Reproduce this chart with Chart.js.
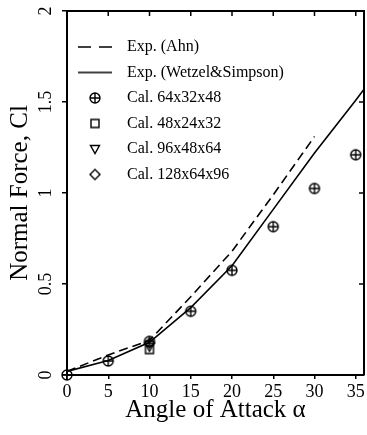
<!DOCTYPE html>
<html>
<head>
<meta charset="utf-8">
<script src="https://cdn.jsdelivr.net/npm/chart.js@4.4.1/dist/chart.umd.min.js"></script>
<style>
  html, body { margin: 0; padding: 0; background: #fff; overflow: hidden; width: 367px; height: 435px; }
  canvas { display: block; }
</style>
</head>
<body>
<canvas id="c" width="370" height="435" style="width:370px;height:435px"></canvas>
<script>
// ---- data ----
const xTicks = [0, 5, 10, 15, 20, 25, 30, 35];
const yTicks = [0, 0.5, 1, 1.5, 2];

const alphaAhn = [0, 5, 10, 15, 20, 25, 30];
const clAhn    = [0.02, 0.11, 0.19, 0.43, 0.68, 0.99, 1.31];

const alphaWS  = [0, 5, 10, 15, 20, 25, 30, 35, 36];
const clWS     = [0.02, 0.08, 0.18, 0.37, 0.60, 0.91, 1.22, 1.51, 1.57];

const alphaCal64  = [0, 5, 10, 15, 20, 25, 30, 35];
const clCal64     = [0.0, 0.077, 0.185, 0.35, 0.575, 0.815, 1.025, 1.21];

const alphaCal48  = [10];
const clCal48     = [0.14];
const alphaCal96  = [10];
const clCal96     = [0.155];
const alphaCal128 = [10];
const clCal128    = [0.175];

const labels = ['Exp. (Ahn)', 'Exp. (Wetzel&Simpson)', 'Cal. 64x32x48', 'Cal. 48x24x32', 'Cal. 96x48x64', 'Cal. 128x64x96'];

// ---- marker / legend symbol images ----
const FONT = "'Liberation Serif', 'Times New Roman', serif";
function symbol(kind) {
  const c = document.createElement('canvas');
  const g = c.getContext('2d');
  if (kind === 'dash' || kind === 'solid') {
    c.width = 34; c.height = 4;
    g.strokeStyle = '#000'; g.lineWidth = 1.6;
    if (kind === 'dash') g.setLineDash([13, 8]);
    g.beginPath(); g.moveTo(0, 2); g.lineTo(34, 2); g.stroke();
    return c;
  }
  c.width = 14; c.height = 14;
  g.strokeStyle = '#000'; g.lineWidth = 1.4;
  g.beginPath();
  if (kind === 'oplus') {
    g.arc(7, 7, 5, 0, Math.PI * 2);
    g.moveTo(7, 2); g.lineTo(7, 12);
    g.moveTo(2, 7); g.lineTo(12, 7);
  } else if (kind === 'square') {
    g.rect(3, 3, 8, 8);
  } else if (kind === 'tri') {
    g.moveTo(2.5, 3.5); g.lineTo(11.5, 3.5); g.lineTo(7, 11.5); g.closePath();
  } else if (kind === 'diamond') {
    g.moveTo(7, 2); g.lineTo(12, 7); g.lineTo(7, 12); g.lineTo(2, 7); g.closePath();
  }
  g.stroke();
  return c;
}

const pts = (xs, ys) => xs.map((v, i) => ({ x: v, y: ys[i] }));

function markerSet(label, xs, ys, kind) {
  return {
    label, data: pts(xs, ys), showLine: false,
    pointStyle: symbol(kind), pointRadius: 5, pointHoverRadius: 5,
    borderColor: '#000', backgroundColor: '#000', clip: false
  };
}

const framePlugin = {
  id: 'frame',
  afterLayout(chart) {
    const a = chart.chartArea, lg = chart.legend;
    if (lg) { lg.left = a.left - 5.5; lg.top = a.top + 18.5; }
  },
  afterDraw(chart) {
    const { ctx, chartArea: a, scales: { x, y } } = chart;
    ctx.save();
    ctx.strokeStyle = '#000';
    ctx.lineWidth = 2;
    ctx.beginPath();
    ctx.moveTo(a.left - 1, a.top); ctx.lineTo(a.right + 1, a.top);
    ctx.moveTo(a.right, a.top); ctx.lineTo(a.right, a.bottom);
    ctx.stroke();
    ctx.lineWidth = 1.5;
    ctx.beginPath();
    xTicks.forEach(v => { const px = x.getPixelForValue(v); ctx.moveTo(px, a.top); ctx.lineTo(px, a.top + 5); });
    yTicks.forEach(v => { const py = y.getPixelForValue(v); ctx.moveTo(a.right, py); ctx.lineTo(a.right - 5, py); });
    ctx.stroke();
    ctx.restore();
  }
};

new Chart(document.getElementById('c'), {
  type: 'scatter',
  data: {
    datasets: [
      { label: labels[0], data: pts(alphaAhn, clAhn), showLine: true, borderColor: '#000', borderWidth: 1.6,
        borderDash: [9, 5], pointRadius: 0, pointHoverRadius: 0, pointStyle: symbol('dash'), backgroundColor: '#000', tension: 0 },
      { label: labels[1], data: pts(alphaWS, clWS), showLine: true, borderColor: '#000', borderWidth: 1.6,
        pointRadius: 0, pointHoverRadius: 0, pointStyle: symbol('solid'), backgroundColor: '#000', tension: 0 },
      markerSet(labels[2], alphaCal64, clCal64, 'oplus'),
      markerSet(labels[3], alphaCal48, clCal48, 'square'),
      markerSet(labels[4], alphaCal96, clCal96, 'tri'),
      markerSet(labels[5], alphaCal128, clCal128, 'diamond')
    ]
  },
  options: {
    responsive: false,
    animation: false,
    devicePixelRatio: 1,
    events: [],
    layout: { padding: { top: 11, right: 1.5, left: 0, bottom: 0 } },
    plugins: {
      tooltip: { enabled: false },
      legend: {
        position: 'chartArea',
        align: 'start',
        labels: {
          usePointStyle: true, pointStyleWidth: 48, padding: 9.5,
          color: '#000', font: { family: FONT, size: 16 }
        }
      }
    },
    scales: {
      x: {
        type: 'linear', min: 0, max: 36,
        afterBuildTicks: s => { s.ticks = xTicks.map(v => ({ value: v })); },
        afterFit: s => { s.height = 60; s.paddingLeft = 0; s.paddingRight = 0; },
        ticks: { color: '#000', font: { family: FONT, size: 18 }, maxRotation: 0, minRotation: 0, padding: 2,
                 callback: v => String(v) },
        grid: { display: true, drawOnChartArea: false, drawTicks: true, tickLength: 4, color: '#000', lineWidth: 1.5 },
        border: { display: true, color: '#000', width: 2 },
        title: { display: true, text: 'Angle of Attack α', color: '#000', font: { family: FONT, size: 25 }, padding: { top: 0, bottom: 10 } }
      },
      y: {
        type: 'linear', min: 0, max: 2,
        afterBuildTicks: s => { s.ticks = yTicks.map(v => ({ value: v })); },
        afterFit: s => { s.width = 67; s.paddingTop = 0; s.paddingBottom = 0; },
        ticks: { color: '#000', font: { family: FONT, size: 18 }, minRotation: 90, maxRotation: 90, crossAlign: 'center', padding: 4,
                 callback: v => String(v) },
        grid: { display: true, drawOnChartArea: false, drawTicks: true, tickLength: 5, color: '#000', lineWidth: 1.5 },
        border: { display: true, color: '#000', width: 2 },
        title: { display: true, text: 'Normal Force, Cl', color: '#000', font: { family: FONT, size: 25 }, padding: { top: 5, bottom: 0 } }
      }
    }
  },
  plugins: [framePlugin]
});
</script>
</body>
</html>
